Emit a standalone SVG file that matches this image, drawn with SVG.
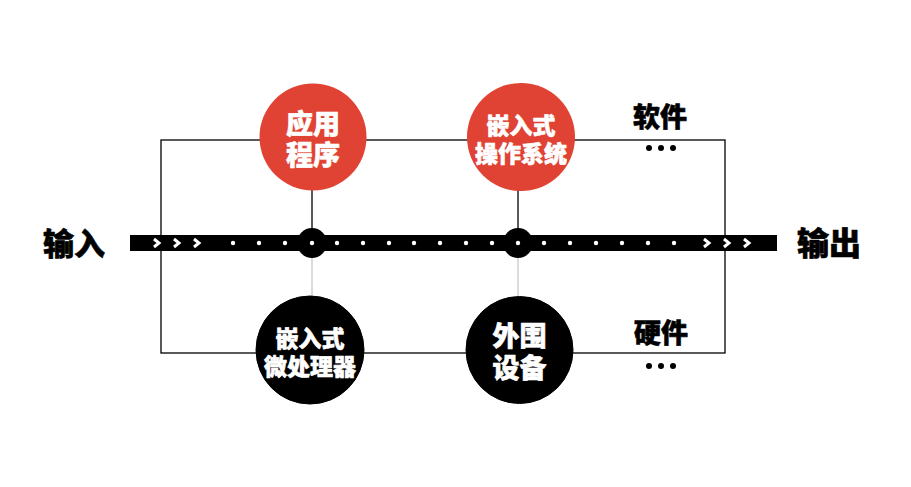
<svg xmlns="http://www.w3.org/2000/svg" width="911" height="487" viewBox="0 0 911 487">
<style>
.t{font-family:"Noto Sans CJK SC","Noto Sans",sans-serif;font-weight:900;text-anchor:middle;dominant-baseline:central;stroke-width:0.6;stroke-linejoin:round}
.w{fill:#fff;stroke:#fff}
.k{fill:#000;stroke:#000}
.ln{stroke:#000;stroke-width:1.3;fill:none}
.gl{stroke:#c8c8c8;stroke-width:1.3;fill:none}
.dot{fill:#fff}
.chev{stroke:#fff;stroke-width:3;fill:none;stroke-linecap:butt;stroke-linejoin:miter}
.red{fill:#e04334}
</style>
<rect width="911" height="487" fill="#fff"/>
<g id="connectors">
<rect class="ln" x="161" y="140" width="564" height="213"/>
<line class="ln" x1="312" y1="185" x2="312" y2="235"/>
<line class="ln" x1="518" y1="185" x2="518" y2="235"/>
<line class="gl" x1="312" y1="251" x2="312" y2="300"/>
<line class="gl" x1="518" y1="251" x2="518" y2="300"/>
</g>
<g id="bus">
<rect x="130" y="235" width="647" height="16" fill="#000"/>
<circle cx="312" cy="243" r="15" fill="#000"/>
<circle cx="518" cy="243" r="15" fill="#000"/>
<g class="chev">
<path d="M154,239 L159,243 L154,247"/>
<path d="M174,239 L179,243 L174,247"/>
<path d="M194,239 L199,243 L194,247"/>
<path d="M704,239 L709,243 L704,247"/>
<path d="M724,239 L729,243 L724,247"/>
<path d="M744,239 L749,243 L744,247"/>
</g>
<g class="dot">
<circle cx="233" cy="243" r="2.2"/>
<circle cx="259" cy="243" r="2.2"/>
<circle cx="285" cy="243" r="2.2"/>
<circle cx="312" cy="243" r="2.2"/>
<circle cx="337" cy="243" r="2.2"/>
<circle cx="363" cy="243" r="2.2"/>
<circle cx="389" cy="243" r="2.2"/>
<circle cx="414" cy="243" r="2.2"/>
<circle cx="440" cy="243" r="2.2"/>
<circle cx="466" cy="243" r="2.2"/>
<circle cx="492" cy="243" r="2.2"/>
<circle cx="518" cy="243" r="2.2"/>
<circle cx="544" cy="243" r="2.2"/>
<circle cx="570" cy="243" r="2.2"/>
<circle cx="596" cy="243" r="2.2"/>
<circle cx="622" cy="243" r="2.2"/>
<circle cx="648" cy="243" r="2.2"/>
<circle cx="674" cy="243" r="2.2"/>
</g>
</g>
<g id="app">
<circle class="red" cx="313" cy="137" r="53.5"/>
<text class="t w" font-size="27"><tspan x="313" y="122">应用</tspan><tspan x="313" y="153">程序</tspan></text>
</g>
<g id="os">
<circle class="red" cx="521" cy="137" r="54"/>
<text class="t w" font-size="23"><tspan x="521" y="124">嵌入式</tspan><tspan x="521" y="152">操作系统</tspan></text>
</g>
<g id="cpu">
<circle class="k" cx="310" cy="350" r="54"/>
<text class="t w" font-size="23"><tspan x="310" y="337">嵌入式</tspan><tspan x="310" y="365">微处理器</tspan></text>
</g>
<g id="peripheral">
<circle class="k" cx="519.5" cy="350" r="53.5"/>
<text class="t w" font-size="27"><tspan x="519.5" y="334">外围</tspan><tspan x="519.5" y="366">设备</tspan></text>
</g>
<g id="software">
<text class="t k" x="660" y="115" font-size="27">软件</text>
<circle cx="649" cy="148" r="3"/>
<circle cx="661" cy="148" r="3"/>
<circle cx="673" cy="148" r="3"/>
</g>
<g id="hardware">
<text class="t k" x="661" y="331" font-size="27">硬件</text>
<circle cx="649" cy="366" r="3"/>
<circle cx="661" cy="366" r="3"/>
<circle cx="673" cy="366" r="3"/>
</g>
<g id="input">
<text class="t k" x="74" y="241" font-size="31">输入</text>
</g>
<g id="output">
<text class="t k" x="829" y="241" font-size="32">输出</text>
</g>
</svg>
